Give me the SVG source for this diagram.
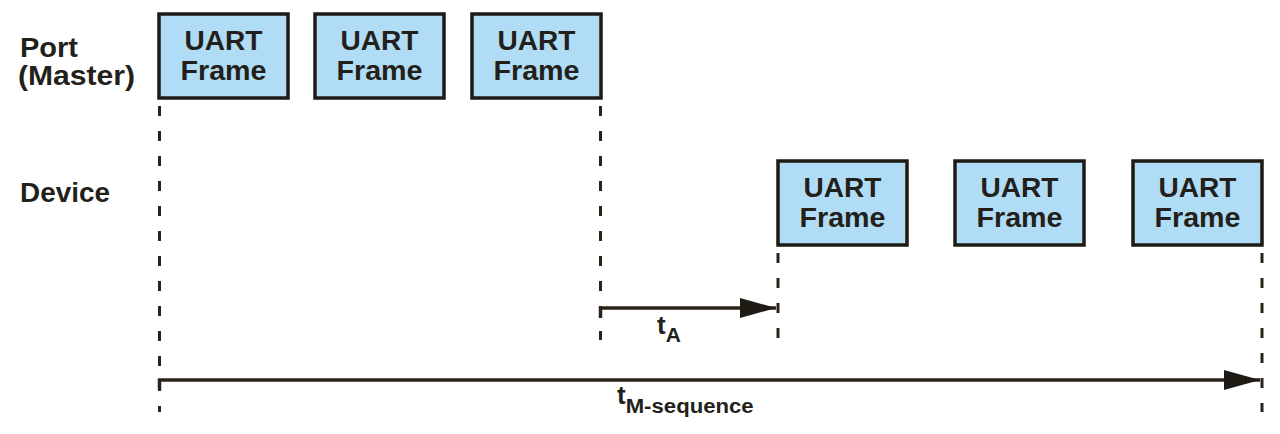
<svg xmlns="http://www.w3.org/2000/svg" width="1280" height="434" viewBox="0 0 1280 434">
<defs>
<style>
.box{fill:#b0ddf5;stroke:#1e1a14;stroke-width:3.5}
.bt{font-family:"Liberation Sans",Arial,sans-serif;font-weight:bold;font-size:27px;fill:#231f1a;text-anchor:middle}
.lbl{font-family:"Liberation Sans",Arial,sans-serif;font-weight:bold;font-size:27px;fill:#231f1a}
.dash{stroke:#2a2418;stroke-width:3;stroke-dasharray:10 15;fill:none}
.arr{stroke:#2a2418;stroke-width:3.5;fill:none}
.t{font-family:"Liberation Sans",Arial,sans-serif;font-weight:bold;fill:#231f1a}
</style>
<marker id="ah" markerUnits="userSpaceOnUse" markerWidth="38" markerHeight="22" refX="36" refY="10" orient="auto">
<path d="M0,0 L36,10 L0,20 Z" fill="#1e1a14"/>
</marker>
</defs>
<rect width="1280" height="434" fill="#ffffff"/>
<g id="labels">
<text class="lbl" x="20" y="57" textLength="58" lengthAdjust="spacingAndGlyphs">Port</text>
<text class="lbl" x="18" y="85" textLength="117" lengthAdjust="spacingAndGlyphs">(Master)</text>
<text class="lbl" x="20" y="202" textLength="90" lengthAdjust="spacingAndGlyphs">Device</text>
</g>
<g id="master-frame-1">
<rect class="box" x="159" y="14" width="129" height="84"/>
<text class="bt" x="223.5" y="50" textLength="78" lengthAdjust="spacingAndGlyphs">UART</text>
<text class="bt" x="223.5" y="80" textLength="86" lengthAdjust="spacingAndGlyphs">Frame</text>
</g>
<g id="master-frame-2">
<rect class="box" x="315" y="14" width="129" height="84"/>
<text class="bt" x="379.5" y="50" textLength="78" lengthAdjust="spacingAndGlyphs">UART</text>
<text class="bt" x="379.5" y="80" textLength="86" lengthAdjust="spacingAndGlyphs">Frame</text>
</g>
<g id="master-frame-3">
<rect class="box" x="472" y="14" width="129" height="84"/>
<text class="bt" x="536.5" y="50" textLength="78" lengthAdjust="spacingAndGlyphs">UART</text>
<text class="bt" x="536.5" y="80" textLength="86" lengthAdjust="spacingAndGlyphs">Frame</text>
</g>
<g id="device-frame-1">
<rect class="box" x="778" y="161" width="129" height="84"/>
<text class="bt" x="842.5" y="197" textLength="78" lengthAdjust="spacingAndGlyphs">UART</text>
<text class="bt" x="842.5" y="227" textLength="86" lengthAdjust="spacingAndGlyphs">Frame</text>
</g>
<g id="device-frame-2">
<rect class="box" x="955" y="161" width="129" height="84"/>
<text class="bt" x="1019.5" y="197" textLength="78" lengthAdjust="spacingAndGlyphs">UART</text>
<text class="bt" x="1019.5" y="227" textLength="86" lengthAdjust="spacingAndGlyphs">Frame</text>
</g>
<g id="device-frame-3">
<rect class="box" x="1133" y="161" width="129" height="84"/>
<text class="bt" x="1197.5" y="197" textLength="78" lengthAdjust="spacingAndGlyphs">UART</text>
<text class="bt" x="1197.5" y="227" textLength="86" lengthAdjust="spacingAndGlyphs">Frame</text>
</g>
<g id="connectors">
<line class="dash" x1="159.5" y1="106" x2="159.5" y2="412"/>
<line class="dash" x1="600.5" y1="106" x2="600.5" y2="340"/>
<line class="dash" x1="778" y1="253" x2="778" y2="340"/>
<line class="dash" x1="1262" y1="253" x2="1262" y2="412"/>
<path class="arr" d="M600.5,318 V308 H776" marker-end="url(#ah)"/>
<path class="arr" d="M159.5,390 V380 H1260" marker-end="url(#ah)"/>
</g>
<g id="timing-labels">
<text class="t" x="657" y="334" font-size="26">t<tspan font-size="21" dy="8">A</tspan></text>
<text class="t" x="617" y="404" font-size="26">t<tspan font-size="20" dy="9" textLength="128" lengthAdjust="spacingAndGlyphs">M-sequence</tspan></text>
</g>
</svg>
